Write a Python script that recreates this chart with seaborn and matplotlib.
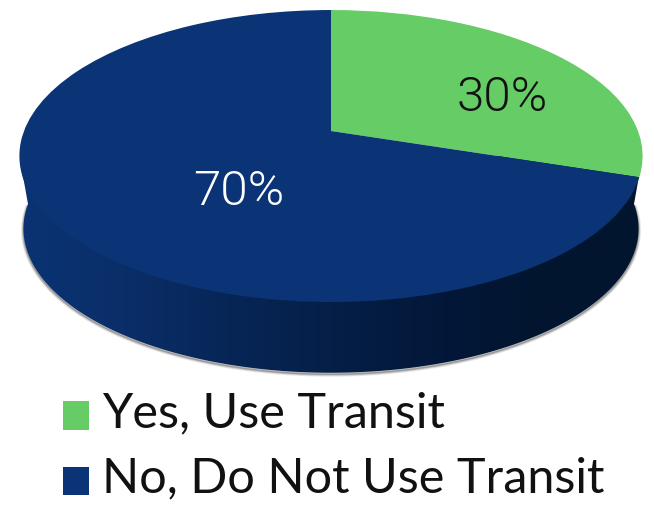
import numpy as np
import matplotlib
matplotlib.use("Agg")
import matplotlib.pyplot as plt
import seaborn as sb
from matplotlib.colors import LinearSegmentedColormap
from matplotlib.patches import PathPatch
from matplotlib.path import Path
from matplotlib.transforms import Transform

labels = ["Yes, Use Transit", "No, Do Not Use Transit"]
shares = [30, 70]
slice_colors = ["#66cc66", "#0a3475"]
wall_colors = ["#0a3373", "#0a2e68", "#072657", "#051f47", "#03183a", "#02152f", "#02152f"]

sb.set_theme(style="white")
plt.rcParams["font.family"] = ["Lato", "DejaVu Sans"]

TILT = 0.1713


# tilts the flat pie, far side smaller, so the apex sits above the ellipse centre
class Tilt(Transform):
    input_dims = 2
    output_dims = 2
    is_affine = False
    has_inverse = False

    def __init__(self, scale=1.0, drop=0.0):
        super().__init__()
        self.scale = scale
        self.drop = drop

    def transform_non_affine(self, values):
        values = np.asarray(values)
        w = 1 + TILT * values[:, 1]
        x = 331 + 307 * self.scale * values[:, 0] / w
        y = 131 + self.drop - 141.7 * self.scale * values[:, 1] / w
        return np.column_stack([x, y])


fig = plt.figure(figsize=(6.54, 5.05), dpi=100)
ax = fig.add_axes([0, 0, 1, 1])

wedges, _, pct = ax.pie(shares, colors=slice_colors, startangle=90, counterclock=False,
                        autopct="%d%%", wedgeprops={"linewidth": 0})
ax.set_aspect("auto")

for w in wedges:
    w.set_transform(Tilt() + ax.transData)
    w.set_zorder(5)

# side wall: lower half of the base, closed across the widest points of the top
t = np.linspace(np.pi, 2 * np.pi, 200)
lower = np.column_stack([np.cos(t), np.sin(t)])
base = Tilt(scale=0.987, drop=73).transform(lower)
reach = np.sqrt(1 - TILT ** 2)
widest = Tilt().transform(np.array([[reach, -TILT], [-reach, -TILT]]))
wall = Path(np.vstack([base, widest, base[:1]]), closed=True)

for lw, alpha in [(3.5, 0.12), (2.2, 0.18), (1.0, 0.3)]:
    ax.add_patch(PathPatch(Path(base + [0, 1.5]), facecolor="none", edgecolor="#333333",
                           lw=lw, alpha=alpha, zorder=1))

cmap = LinearSegmentedColormap.from_list("wall", wall_colors)
im = ax.imshow(np.linspace(0, 1, 256)[None, :], cmap=cmap, aspect="auto",
               extent=(20, 642, 385, 0), zorder=2)
im.set_clip_path(wall, transform=ax.transData)

ax.set_xlim(0, 654)
ax.set_ylim(505, 0)
ax.axis("off")

pct[0].set_position((502, 98))
pct[0].set_color("#111111")
pct[1].set_position((239, 192))
pct[1].set_color("white")
for p in pct:
    p.set_family("Roboto")
    p.set_fontsize(35.5)
    p.set_fontweight(300)
    p.set_zorder(6)

leg = ax.legend(wedges, labels, loc="upper left", bbox_to_anchor=(63 / 654, 1 - 391 / 505),
                frameon=False, fontsize=35, labelcolor="#111111", handlelength=0.53, handleheight=0.53,
                handletextpad=0.28, labelspacing=0.44, borderaxespad=0, borderpad=0)
for h in leg.legend_handles:
    h.set_y(h.get_y() - 4.3)

fig.savefig("out.png", dpi=100)
